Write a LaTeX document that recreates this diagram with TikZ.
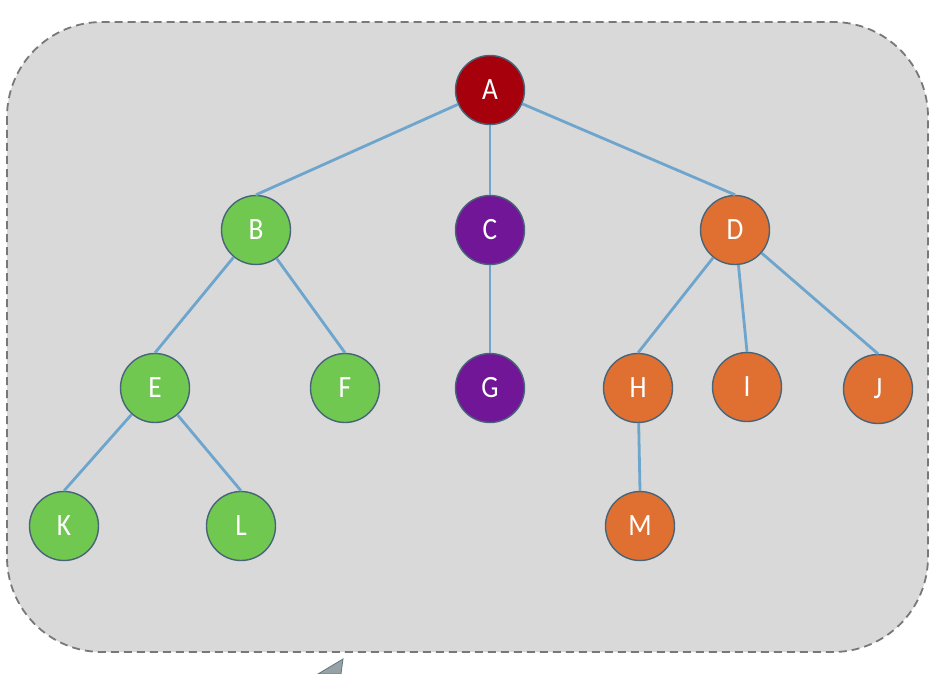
\documentclass[tikz,border=0pt]{standalone}
\usepackage{fontspec}
\setmainfont{Carlito}
\newfontfamily\nodefont[FakeStretch=0.88]{Carlito}
\begin{document}
\begin{tikzpicture}[x=1pt,y=-1pt,
  tn/.style={circle,minimum size=69pt,inner sep=0pt,draw=borderc,line width=1.4pt,text=white,font=\nodefont\fontsize{31}{31}\selectfont},
  redn/.style={tn,fill=redc},
  greenn/.style={tn,fill=greenc},
  purplen/.style={tn,fill=purplec},
  orangen/.style={tn,fill=orangec},
  edge/.style={draw=edgec,line width=2.8pt}]
\definecolor{redc}{RGB}{165,0,12}
\definecolor{greenc}{RGB}{112,200,80}
\definecolor{purplec}{RGB}{112,22,150}
\definecolor{orangec}{RGB}{224,112,50}
\definecolor{borderc}{RGB}{72,100,120}
\definecolor{edgec}{RGB}{110,165,205}
\definecolor{bgc}{RGB}{217,217,217}
\definecolor{dashc}{RGB}{120,120,120}
\definecolor{tric}{RGB}{150,162,166}
\useasboundingbox (0,0) rectangle (945,674);
\fill[white] (0,0) rectangle (945,674);
\draw[fill=bgc,draw=dashc,line width=1.8pt,dash pattern=on 8pt off 5pt,rounded corners=95pt] (7,22) rectangle (928,652);
\filldraw[fill=tric,draw=borderc!70!tric,line width=0.8pt] (343,659) -- (318,674) -- (341,674) -- cycle;
\node[redn] (A) at (490,90) {A};
\node[greenn] (B) at (256,230) {B};
\node[purplen] (C) at (490,230) {C};
\node[orangen] (D) at (735,230) {D};
\node[greenn] (E) at (155,388) {E};
\node[greenn] (F) at (345,388) {F};
\node[purplen] (G) at (490,388) {G};
\node[orangen] (H) at (638,388) {H};
\node[orangen] (I) at (747,387) {I};
\node[orangen] (J) at (878,389) {J};
\node[greenn] (K) at (64,526) {K};
\node[greenn] (L) at (241,526) {L};
\node[orangen] (M) at (640,526) {M};
\draw[edge] (A) -- (B.north);
\draw[edge] (A) -- (C.north);
\draw[edge] (A) -- (D.north);
\draw[edge] (B) -- (E.north);
\draw[edge] (B) -- (F.north);
\draw[edge] (C) -- (G.north);
\draw[edge] (D) -- (H.north);
\draw[edge] (D) -- (I.north);
\draw[edge] (D) -- (J.north);
\draw[edge] (E) -- (K.north);
\draw[edge] (E) -- (L.north);
\draw[edge] (H) -- (M.north);
\end{tikzpicture}
\end{document}
